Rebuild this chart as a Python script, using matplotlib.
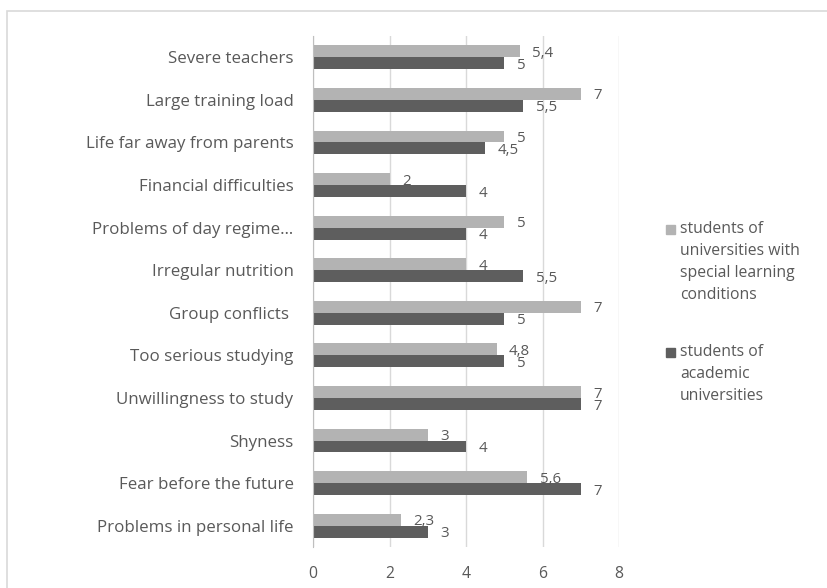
import numpy as np
import matplotlib.pyplot as plt
from matplotlib.patches import Rectangle

plt.rcParams['font.family'] = ['Open Sans', 'DejaVu Sans']

categories = ['Severe teachers', 'Large training load', 'Life far away from parents',
              'Financial difficulties', 'Problems of day regime\u2026', 'Irregular nutrition',
              'Group conflicts ', 'Too serious studying', 'Unwillingness to study',
              'Shyness', 'Fear before the future', 'Problems in personal life']
special = [5.4, 7, 5, 2, 5, 4, 7, 4.8, 7, 3, 5.6, 2.3]
academic = [5, 5.5, 4.5, 4, 4, 5.5, 5, 5, 7, 4, 7, 3]
series_names = [['students of', 'universities with', 'special learning', 'conditions'],
                ['students of', 'academic', 'universities']]
xticks = [0, 2, 4, 6, 8]

light = '#b3b3b3'
dark = '#5e5e5e'
text_col = '#595959'

W, H = 827, 588
fig = plt.figure(figsize=(W / 100, H / 100), dpi=100)
ax = fig.add_axes([313 / W, 1 - 547 / H, 306 / W, 511 / H])

# outer chart border
fig.patches.append(Rectangle((7 / W, -0.05), 1.0, 1 - 11 / H + 0.05,
                             transform=fig.transFigure, fill=False,
                             edgecolor='#d9d9d9', linewidth=1.2))

n = len(categories)
y = np.arange(n)
h = 0.28

def fmt(v):
    return f'{v:g}'.replace('.', ',')

b1 = ax.barh(y - h / 2, special, height=h, color=light, zorder=3)
b2 = ax.barh(y + h / 2, academic, height=h, color=dark, zorder=3)

for bars, vals in [(b1, special), (b2, academic)]:
    for bar, v in zip(bars, vals):
        ax.annotate(fmt(v), (v, bar.get_y() + bar.get_height() / 2),
                    xytext=(9, -1.5), textcoords='offset points',
                    ha='left', va='center', fontsize=10.8, color=text_col)

ax.set_ylim(n - 0.5, -0.5)
ax.set_xlim(0, 8)
ax.set_xticks(xticks)
ax.set_xticklabels([str(t) for t in xticks])
ax.set_yticks(y)
ax.set_yticklabels(categories)
ax.tick_params(axis='both', length=0, labelcolor=text_col)
ax.tick_params(axis='y', pad=14, labelsize=12.2)
ax.tick_params(axis='x', pad=14, labelsize=11.3)
ax.grid(axis='x', color='#d9d9d9', linewidth=1, zorder=0)
for s in ['top', 'right', 'bottom']:
    ax.spines[s].set_visible(False)
ax.spines['left'].set_color('#bfbfbf')
ax.spines['left'].set_zorder(4)

# legend drawn line by line, marker beside the first line
legend_tops = [229, 352]
line_step = 22
for color, lines, y0 in zip([light, dark], series_names, legend_tops):
    fig.patches.append(Rectangle((666 / W, 1 - (y0 + 4.5) / H), 9 / W, 9 / H,
                                 transform=fig.transFigure, color=color))
    for i, line in enumerate(lines):
        fig.text(680 / W, 1 - (y0 + i * line_step) / H, line, ha='left', va='center',
                 fontsize=11.3, color=text_col)

fig.savefig('out.png', dpi=100)
